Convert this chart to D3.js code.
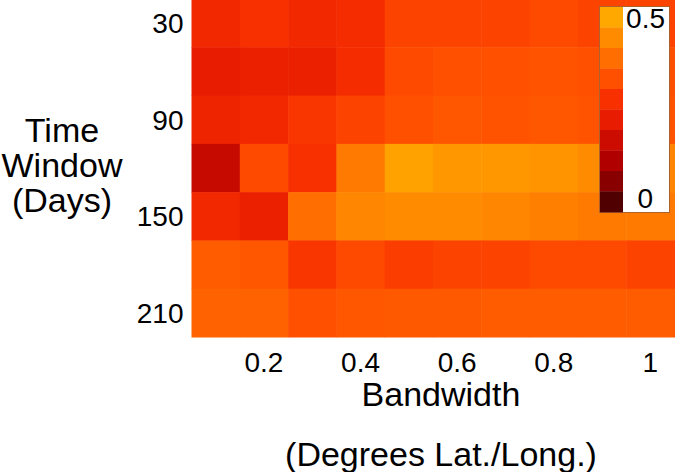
<!DOCTYPE html>
<html>
<head>
<meta charset="utf-8">
<script src="https://cdn.jsdelivr.net/npm/d3@7"></script>
<style>
  html, body { margin: 0; padding: 0; background: #fff; }
  svg { display: block; font-family: "Liberation Sans", Arial, sans-serif; }
</style>
</head>
<body>
<svg id="chart" width="675" height="472"></svg>
<script>
// Data
const bandwidths = [0.1, 0.2, 0.3, 0.4, 0.5, 0.6, 0.7, 0.8, 0.9, 1.0];
const timeWindows = [30, 60, 90, 120, 150, 180, 210];
const xTickValues = [0.2, 0.4, 0.6, 0.8, 1.0];
const xTickLabels = ["0.2", "0.4", "0.6", "0.8", "1"];
const yTickValues = [30, 90, 150, 210];
const row30  = [0.28, 0.30, 0.28, 0.29, 0.33, 0.33, 0.33, 0.34, 0.33, 0.33];
const row60  = [0.25, 0.26, 0.26, 0.29, 0.34, 0.35, 0.35, 0.355, 0.35, 0.35];
const row90  = [0.27, 0.28, 0.31, 0.33, 0.35, 0.36, 0.355, 0.36, 0.355, 0.355];
const row120 = [0.19, 0.34, 0.30, 0.42, 0.49, 0.47, 0.47, 0.465, 0.45, 0.44];
const row150 = [0.28, 0.26, 0.40, 0.44, 0.45, 0.45, 0.44, 0.43, 0.42, 0.42];
const row180 = [0.37, 0.36, 0.31, 0.34, 0.32, 0.33, 0.33, 0.34, 0.34, 0.33];
const row210 = [0.38, 0.38, 0.35, 0.36, 0.365, 0.365, 0.37, 0.37, 0.37, 0.37];
const rows = [row30, row60, row90, row120, row150, row180, row210];
const legendMin = 0, legendMax = 0.5;
const colorStops = [0, 0.05, 0.1, 0.15, 0.2, 0.25, 0.3, 0.35, 0.4, 0.45, 0.5];
const colorValues = ["#200000", "#500000", "#880000", "#B00000", "#CC0C00", "#E81C00",
                     "#F83000", "#FF5000", "#FF6E00", "#FF8C00", "#FFA800"];

const svg = d3.select("#chart");
const x = d3.scaleBand().domain(bandwidths).range([191.5, 674.5]).padding(0);
const y = d3.scaleBand().domain(timeWindows).range([-1, 337]).padding(0);
const color = d3.scaleLinear().domain(colorStops).range(colorValues).clamp(true);

const cells = [];
timeWindows.forEach((t, i) => bandwidths.forEach((b, j) => cells.push({t, b, v: rows[i][j]})));

svg.append("g").selectAll("rect").data(cells).join("rect")
  .attr("x", d => x(d.b))
  .attr("y", d => y(d.t))
  .attr("width", x.bandwidth() + 0.5)
  .attr("height", y.bandwidth() + 0.5)
  .attr("fill", d => color(d.v));

// Y axis
const yAxis = d3.axisLeft(y).tickValues(yTickValues).tickSize(0).tickPadding(8);
const gy = svg.append("g").attr("transform", "translate(191.5,0)").call(yAxis);
gy.select(".domain").remove();
gy.selectAll("text").attr("font-size", 28).attr("fill", "#000")
  .attr("font-family", "Liberation Sans, Arial, sans-serif").attr("dy", "0.36em");

// X axis
const xAxis = d3.axisBottom(x).tickValues(xTickValues).tickSize(0).tickPadding(0)
  .tickFormat((d, i) => xTickLabels[i]);
const gx = svg.append("g").attr("transform", "translate(0,337)").call(xAxis);
gx.select(".domain").remove();
gx.selectAll("text").attr("font-size", 28).attr("fill", "#000")
  .attr("font-family", "Liberation Sans, Arial, sans-serif").attr("dy", null).attr("y", 35);

// Axis titles
svg.append("text").attr("x", 441).attr("y", 406).attr("text-anchor", "middle")
  .attr("font-size", 34).text("Bandwidth");
svg.append("text").attr("x", 441).attr("y", 466).attr("text-anchor", "middle")
  .attr("font-size", 34).text("(Degrees Lat./Long.)");
const yTitle = ["Time", "Window", "(Days)"];
svg.append("g").selectAll("text").data(yTitle).join("text")
  .attr("x", 62).attr("y", (d, i) => 142 + i * 35).attr("text-anchor", "middle")
  .attr("font-size", 34).text(d => d);

// Legend
const nSw = 10;
const legTop = 7, legBottom = 212;
const swH = (legBottom - legTop) / nSw;
const legG = svg.append("g");
legG.append("rect").attr("x", 599.5).attr("y", legTop - 0.5).attr("width", 70).attr("height", legBottom - legTop + 1)
  .attr("fill", "#fff").attr("stroke", "#b0602a").attr("stroke-width", 1);
const swVals = d3.range(nSw).map(i => legendMax - (i + 0.5) * (legendMax - legendMin) / nSw + 0.025);
legG.selectAll("rect.sw").data(swVals).join("rect").attr("class", "sw")
  .attr("x", 600).attr("y", (d, i) => legTop + i * swH).attr("width", 23).attr("height", swH + 0.3)
  .attr("fill", d => color(d));
legG.append("text").attr("x", 665).attr("y", 28).attr("text-anchor", "end").attr("font-size", 28).text("0.5");
legG.append("text").attr("x", 653).attr("y", 208).attr("text-anchor", "end").attr("font-size", 28).text("0");
</script>
</body>
</html>
